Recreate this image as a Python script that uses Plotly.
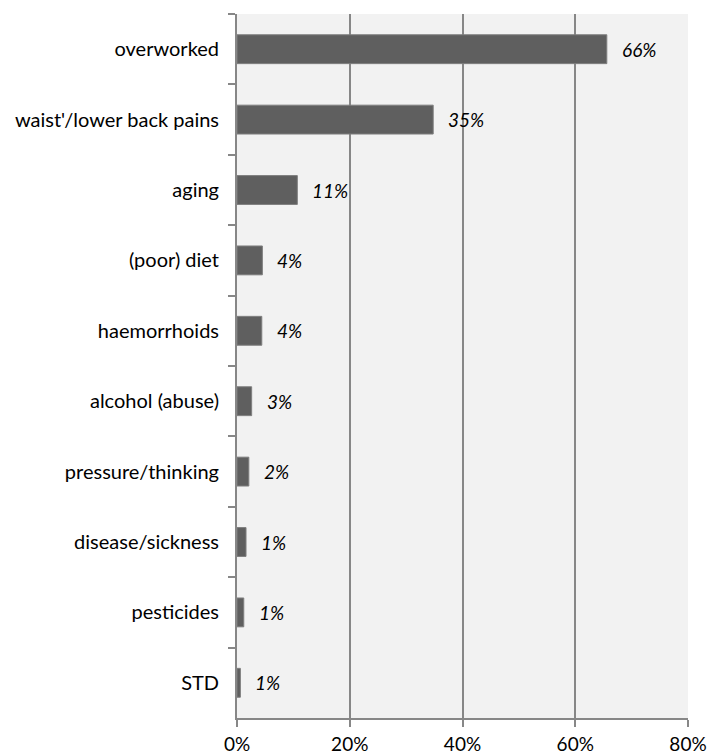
import plotly.graph_objects as go

categories = ["overworked", "waist'/lower back pains", "aging", "(poor) diet",
              "haemorrhoids", "alcohol (abuse)", "pressure/thinking",
              "disease/sickness", "pesticides", "STD"]
values = [65.6, 34.8, 10.7, 4.5, 4.4, 2.6, 2.1, 1.6, 1.2, 0.6]
value_labels = ["66%", "35%", "11%", "4%", "4%", "3%", "2%", "1%", "1%", "1%"]
x_ticks = [0, 20, 40, 60, 80]
x_tick_labels = ["0%", "20%", "40%", "60%", "80%"]

FONT = "Lato"
GRID = "#878787"

fig = go.Figure()
fig.add_trace(go.Bar(
    y=categories, x=values, orientation="h",
    marker=dict(color="#5f5f5f", line=dict(color="#7f7f7f", width=1)),
    hoverinfo="skip",
))

for c, v, t in zip(categories, values, value_labels):
    fig.add_annotation(x=v, y=c, text=t, showarrow=False, xanchor="left",
                       xshift=13, font=dict(family=FONT, size=19, color="#000000",
                                             style="italic"))

fig.update_layout(
    width=707, height=756,
    margin=dict(l=237, r=19, t=14, b=38),
    paper_bgcolor="white", plot_bgcolor="#f2f2f2",
    bargap=0.59, showlegend=False,
    font=dict(family=FONT, size=20, color="#000000"),
)
fig.update_xaxes(
    range=[0, 80], tickvals=x_ticks, ticktext=x_tick_labels,
    showgrid=True, gridcolor=GRID, gridwidth=2,
    showline=True, linecolor=GRID, linewidth=2,
    ticks="outside", ticklen=7, tickwidth=2, tickcolor=GRID,
    zeroline=False, fixedrange=True, automargin=False,
    tickfont=dict(size=19), ticklabelstandoff=1,
)
fig.update_yaxes(
    categoryorder="array", categoryarray=categories, autorange="reversed",
    showgrid=False, showline=True, linecolor=GRID, linewidth=2,
    ticks="outside", ticklen=7, tickwidth=2, tickcolor=GRID,
    tickson="boundaries", ticklabelstandoff=12, fixedrange=True,
    automargin=False, tickfont=dict(size=20),
)

fig.write_html(
    "out.html",
    config={"displayModeBar": False, "staticPlot": True},
    post_script="document.body.style.margin='0';document.body.style.padding='0';",
)
